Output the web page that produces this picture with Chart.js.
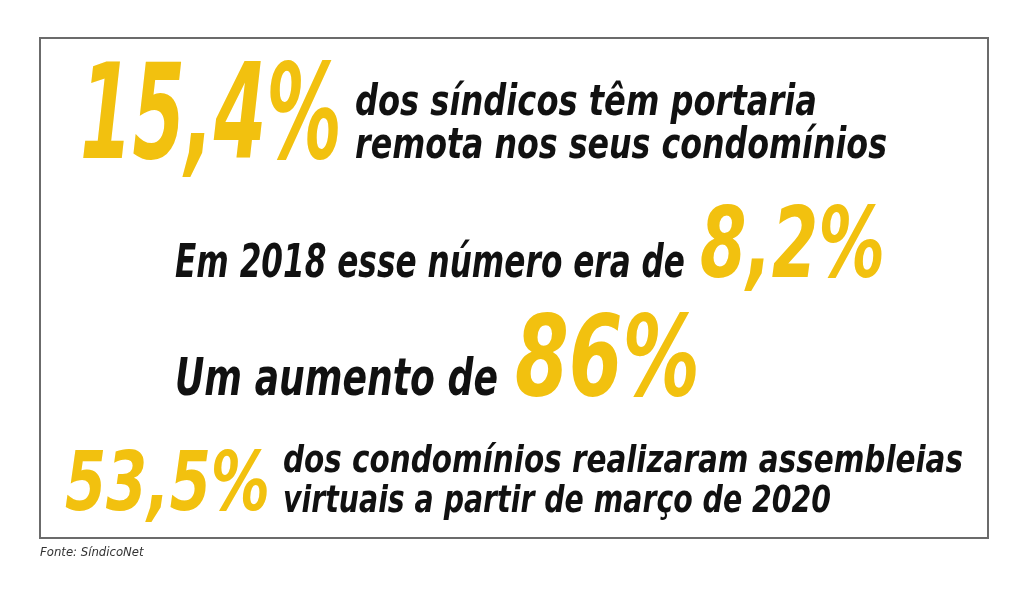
<!DOCTYPE html>
<html>
<head>
<meta charset="utf-8">
<script src="https://cdn.jsdelivr.net/npm/chart.js@4"></script>
<style>
  body { margin: 0; background: #fff; }
  canvas { display: block; }
</style>
</head>
<body>
<canvas id="info" width="1024" height="589"></canvas>
<script>
// Figures shown in the infographic
const figures = [15.4, 8.2, 86, 53.5];
const decimals = [1, 1, 0, 1];
const captions = [
  ['dos síndicos têm portaria', 'remota nos seus condomínios'],
  ['Em 2018 esse número era de'],
  ['Um aumento de'],
  ['dos condomínios realizaram assembleias', 'virtuais a partir de março de 2020']
];
const source = 'Fonte: SíndicoNet';

const YELLOW = '#f2c10f';
const FONT = '"Liberation Sans Narrow", "DejaVu Sans Condensed", "Liberation Sans", sans-serif';

function fmt(v, d) {
  return v.toFixed(d).replace('.', ',') + '%';
}

// draw text squeezed to a target width, like the condensed display face
function drawFit(ctx, text, x, y, size, width, color) {
  ctx.save();
  ctx.font = 'italic bold ' + size + 'px ' + FONT;
  ctx.fillStyle = color;
  ctx.textBaseline = 'alphabetic';
  const w = ctx.measureText(text).width;
  ctx.translate(x, y);
  ctx.scale(width / w, 1);
  ctx.fillText(text, 0, 0);
  ctx.restore();
}

const infoPlugin = {
  id: 'infoText',
  afterDraw(chart) {
    const ctx = chart.ctx;
    ctx.save();
    ctx.strokeStyle = '#6b6b6b';
    ctx.lineWidth = 2;
    ctx.strokeRect(40, 38, 948, 500);

    // block 1
    drawFit(ctx, fmt(figures[0], decimals[0]), 80, 158, 132, 262, YELLOW);
    drawFit(ctx, captions[0][0], 355, 115, 42, 462, '#111');
    drawFit(ctx, captions[0][1], 355, 158, 42, 532, '#111');
    // block 2
    drawFit(ctx, captions[1][0], 175, 277, 46, 510, '#111');
    drawFit(ctx, fmt(figures[1], decimals[1]), 700, 277, 98, 185, YELLOW);
    // block 3
    drawFit(ctx, captions[2][0], 175, 395, 52, 323, '#111');
    drawFit(ctx, fmt(figures[2], decimals[2]), 515, 395, 112, 185, YELLOW);
    // block 4
    drawFit(ctx, fmt(figures[3], decimals[3]), 65, 510, 82, 205, YELLOW);
    drawFit(ctx, captions[3][0], 283, 472, 38, 680, '#111');
    drawFit(ctx, captions[3][1], 283, 512, 38, 548, '#111');

    ctx.font = 'italic 13px ' + FONT;
    ctx.fillStyle = '#333';
    ctx.fillText(source, 40, 556);
    ctx.restore();
  }
};

new Chart(document.getElementById('info'), {
  type: 'bar',
  data: { labels: [], datasets: [] },
  options: {
    responsive: false,
    animation: false,
    plugins: { legend: { display: false }, tooltip: { enabled: false } },
    scales: { x: { display: false }, y: { display: false } }
  },
  plugins: [infoPlugin]
});
</script>
</body>
</html>
